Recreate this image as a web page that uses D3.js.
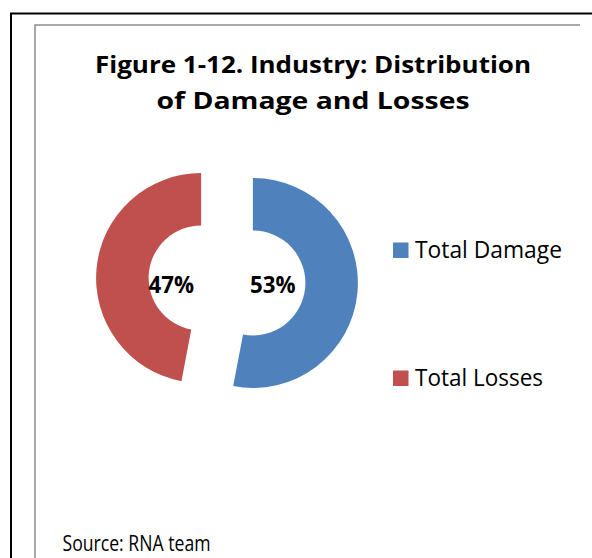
<!DOCTYPE html>
<html>
<head>
<meta charset="utf-8">
<script src="https://cdn.jsdelivr.net/npm/d3@7"></script>
<style>
  body { margin: 0; background: #fff; }
  svg { display: block; }
  text { font-family: "Open Sans", Lato, sans-serif; fill: #000; }
</style>
</head>
<body>
<div id="chart"></div>
<script>
var svgWidth = 592;
var svgHeight = 558;

var categories = ['Total Damage', 'Total Losses'];
var shares = [53, 47];
var colors = ['#4f81bd', '#c0504d'];
var titleLines = ['Figure 1-12. Industry: Distribution', 'of Damage and Losses'];
var sourceNote = 'Source: RNA team';

var data = categories.map(function(c, i) {
    return {name: c, value: shares[i], color: colors[i]};
});

var svg = d3.select('#chart')
    .append('svg')
    .attr('width', svgWidth)
    .attr('height', svgHeight);

// outer black frame (cropped on the right and bottom)
svg.append('path')
    .attr('d', 'M11,558 L11,13.5 L592,13.5')
    .attr('fill', 'none')
    .attr('stroke', '#000')
    .attr('stroke-width', 2);

// grey chart area border
svg.append('path')
    .attr('d', 'M35,558 L35,25 L580,25')
    .attr('fill', 'none')
    .attr('stroke', '#8c8c8c')
    .attr('stroke-width', 1.5);

// title
svg.selectAll('.title')
    .data(titleLines)
    .enter()
    .append('text')
    .attr('class', 'title')
    .attr('x', 313)
    .attr('y', (d, i) => 72.5 + 36 * i)
    .attr('text-anchor', 'middle')
    .attr('font-size', 23.5)
    .attr('font-weight', 'bold')
    .attr('textLength', (d, i) => i === 0 ? 436 : 313)
    .attr('lengthAdjust', 'spacingAndGlyphs')
    .text(d => d);

// donut
var cx = 227, cy = 280.5;
var outerR = 105, innerR = 52.5, explode = 26;

var pie = d3.pie()
    .sort(null)
    .value(d => d.value);

var arc = d3.arc()
    .innerRadius(innerR)
    .outerRadius(outerR);

var labelArc = d3.arc()
    .innerRadius(0)
    .outerRadius(50);

var donut = svg.append('g')
    .attr('transform', `translate(${cx}, ${cy})`);

var slices = donut.selectAll('.slice')
    .data(pie(data))
    .enter()
    .append('g')
    .attr('class', 'slice')
    .attr('transform', function(d) {
        var mid = (d.startAngle + d.endAngle) / 2;
        return `translate(${explode * Math.sin(mid)}, ${-explode * Math.cos(mid)})`;
    });

slices.append('path')
    .attr('d', arc)
    .attr('fill', d => d.data.color);

slices.append('text')
    .attr('x', d => labelArc.centroid(d)[0] - 5)
    .attr('y', d => 12.5 - (explode * -Math.cos((d.startAngle + d.endAngle) / 2)))
    .attr('text-anchor', 'middle')
    .attr('font-size', 22.5)
    .attr('font-weight', 'bold')
    .attr('textLength', 45.5)
    .attr('lengthAdjust', 'spacingAndGlyphs')
    .text(d => d.data.value + '%');

// legend
var legend = svg.append('g')
    .attr('transform', 'translate(393, 242.5)');

var legendItems = legend.selectAll('g')
    .data(data)
    .enter()
    .append('g')
    .attr('transform', (d, i) => `translate(0, ${128 * i})`);

legendItems.append('rect')
    .attr('width', 15.5)
    .attr('height', 15.5)
    .attr('fill', d => d.color);

legendItems.append('text')
    .attr('x', 22)
    .attr('y', 15.2)
    .attr('font-size', 23.5)
    .attr('textLength', (d, i) => i === 0 ? 147 : 128)
    .attr('lengthAdjust', 'spacingAndGlyphs')
    .text(d => d.name);

// source note
svg.append('text')
    .attr('x', 62.5)
    .attr('y', 551)
    .attr('font-size', 22.5)
    .attr('textLength', 148)
    .attr('lengthAdjust', 'spacingAndGlyphs')
    .text(sourceNote);
</script>
</body>
</html>
